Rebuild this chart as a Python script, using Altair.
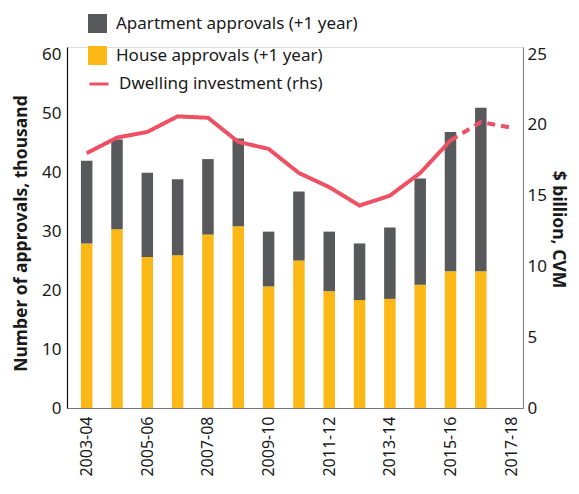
import json
import altair as alt
import pandas as pd

years = ["2003-04", "2004-05", "2005-06", "2006-07", "2007-08", "2008-09", "2009-10",
         "2010-11", "2011-12", "2012-13", "2013-14", "2014-15", "2015-16", "2016-17", "2017-18"]
house = [27.9, 30.3, 25.6, 25.9, 29.4, 30.8, 20.6, 25.0, 19.8, 18.3, 18.5, 20.9, 23.2, 23.2]
apartment = [14.0, 15.2, 14.3, 12.9, 12.8, 14.9, 9.3, 11.7, 10.1, 9.6, 12.1, 18.0, 23.6, 27.7]
investment = [18.0, 19.1, 19.5, 20.6, 20.5, 18.8, 18.3, 16.6, 15.6, 14.3, 15.0, 16.6, 18.9, 20.2, 19.8]
left_ticks = [0, 10, 20, 30, 40, 50, 60]
right_ticks = [0, 5, 10, 15, 20, 25]
label_idx = [0, 2, 4, 6, 8, 10, 12, 14]

APT = "Apartment approvals (+1 year)"
HSE = "House approvals (+1 year)"
DWL = "Dwelling investment (rhs)"

rows = []
for i in range(len(house)):
    rows.append({"i": i, "year": years[i], "series": HSE, "value": house[i], "ord": 0})
    rows.append({"i": i, "year": years[i], "series": APT, "value": apartment[i], "ord": 1})
bars_df = pd.DataFrame(rows)

lrows = []
for i, v in enumerate(investment):
    if i <= 12:
        lrows.append({"i": i, "year": years[i], "inv": v, "seg": "actual"})
    if i >= 12:
        lrows.append({"i": i, "year": years[i], "inv": v, "seg": "forecast"})
line_df = pd.DataFrame(lrows)

FONT = "Noto Sans"
TXT = "#1a1a1a"

xscale = alt.Scale(domain=[-0.484, 14.226], nice=False, zero=False)
xaxis = alt.Axis(values=label_idx, labelExpr=json.dumps(years) + "[datum.value]",
                 labelAngle=-90, labelFontSize=16, labelColor=TXT, ticks=False,
                 grid=False, title=None, domainColor="#777777", labelPadding=8,
                 labelFont=FONT)

bars = alt.Chart(bars_df).mark_bar(width=11.5).encode(
    x=alt.X("i:Q", scale=xscale, axis=xaxis),
    y=alt.Y("value:Q", stack=True,
            scale=alt.Scale(domain=[0, 61.2], nice=False),
            axis=alt.Axis(values=left_ticks, title="Number of approvals, thousand",
                          titleFontSize=17.5, titleFontWeight="bold", titleColor=TXT,
                          titleX=-46, titleY=186, titleBaseline="middle",
                          labelFontSize=17, labelColor=TXT, ticks=False, grid=False,
                          domainColor="#111111", domainWidth=1.2, labelPadding=6)),
    color=alt.Color("series:N",
                    scale=alt.Scale(domain=[APT, HSE], range=["#58595b", "#fbb817"]),
                    legend=alt.Legend(title=None, orient="none", legendX=21, legendY=-33,
                                      symbolType="square", symbolSize=361,
                                      symbolStrokeWidth=0, labelFontSize=17,
                                      labelColor=TXT, labelFont=FONT, rowPadding=13,
                                      labelOffset=9, labelLimit=0)),
    order=alt.Order("ord:Q"),
)

line = alt.Chart(line_df).mark_line(strokeWidth=4).encode(
    x=alt.X("i:Q", scale=xscale, axis=xaxis),
    y=alt.Y("inv:Q", scale=alt.Scale(domain=[0, 25.5], nice=False),
            axis=alt.Axis(orient="right", values=right_ticks, title="$ billion, CVM",
                          titleFontSize=17.5, titleFontWeight="bold", titleColor=TXT,
                          titleX=34, titleY=182, titleBaseline="middle",
                          labelFontSize=17, labelColor=TXT, ticks=False, grid=False,
                          domainColor="#888888", domainWidth=1.2, labelPadding=4)),
    stroke=alt.Stroke("lab:N", scale=alt.Scale(domain=[DWL], range=["#ee5064"]),
                      legend=alt.Legend(title=None, orient="none", legendX=21, legendY=26,
                                        symbolType="stroke", symbolSize=361,
                                        symbolStrokeWidth=3, labelFontSize=17,
                                        labelColor=TXT, labelFont=FONT, labelOffset=9,
                                        labelLimit=0)),
    strokeDash=alt.StrokeDash("seg:N", scale=alt.Scale(domain=["actual", "forecast"],
                                                       range=[[1, 0], [8, 6]]),
                              legend=None),
).transform_calculate(lab="'" + DWL + "'")

chart = alt.layer(bars, line).resolve_scale(y="independent").properties(
    width=456, height=361,
    autosize=alt.AutoSizeParams(type="none"),
    padding={"left": 59, "top": 39, "right": 48, "bottom": 70},
).configure_view(stroke=None).configure(font=FONT)

chart.save("out.html", embed_options={"renderer": "svg", "actions": False})
